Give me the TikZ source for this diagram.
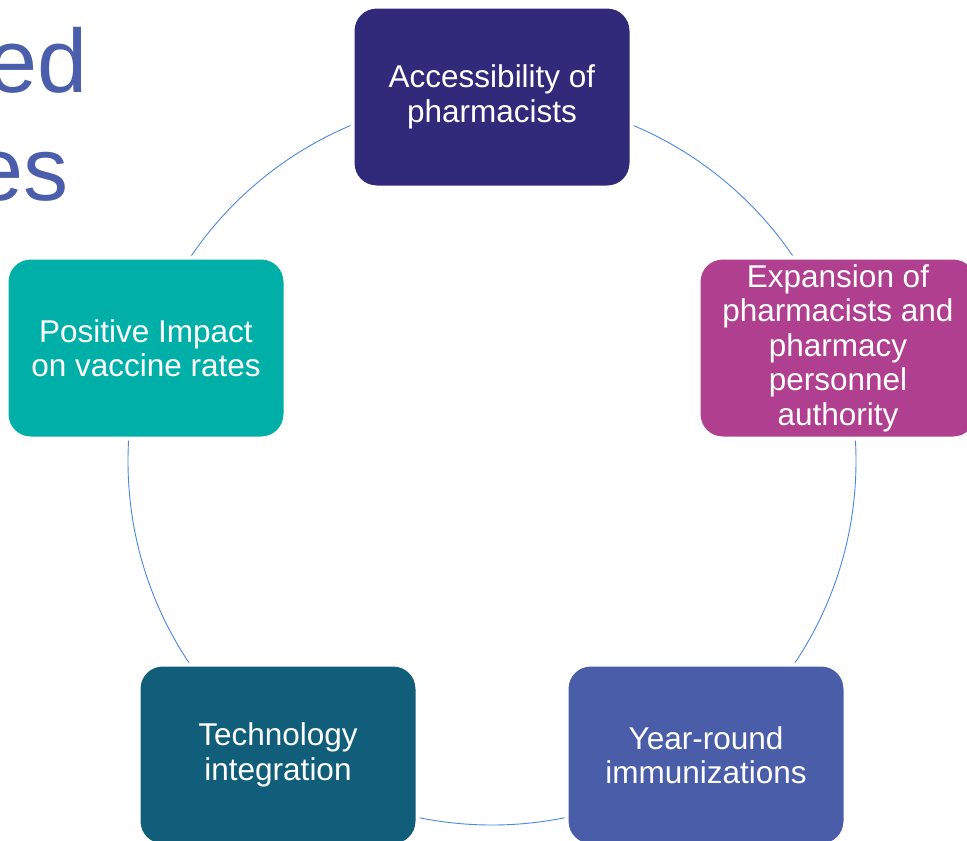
\documentclass[tikz,border=0pt]{standalone}
\usepackage{fontspec}
\setmainfont{Liberation Sans}
\usepackage{tikz}
\usetikzlibrary{calc, positioning}
\definecolor{ringblue}{HTML}{4A86E8}
\definecolor{titleblue}{HTML}{4A5EAC}
\definecolor{accessc}{HTML}{312A7B}
\definecolor{expandc}{HTML}{B0408F}
\definecolor{yearc}{HTML}{4A5DA9}
\definecolor{techc}{HTML}{115E7A}
\definecolor{impactc}{HTML}{00B0A8}

\begin{document}
\begin{tikzpicture}[x=1pt, y=-1pt]
	\tikzset{stage/.style={rounded corners=24pt, minimum width=279pt, minimum height=181pt, text=white, align=center, draw=white, line width=4pt, inner sep=0pt, font=\fontsize{31.5}{34.5}\selectfont}}
	\tikzset{ring/.style={draw=ringblue, line width=0.9pt}}
	\tikzset{title/.style={text=titleblue, inner sep=0, font=\fontsize{90}{108}\selectfont}}
		\useasboundingbox (0,0) rectangle (967,841);
		\coordinate (centre) at (492,461);
		\draw[ring] (centre) circle (364);
		\foreach \name/\x/\y/\col/\tag in {acc/492/97/accessc/{Accessibility of\\pharmacists}, exp/838/348/expandc/{Expansion of\\pharmacists and\\pharmacy\\personnel\\authority}, year/706/755/yearc/{Year-round\\immunizations}, tech/278/755/techc/{Technology\\integration}, imp/146/348/impactc/{Positive Impact\\on vaccine rates}}
		{\node[stage, fill=\col] (\name) at (\x,\y) {\tag};}
		% title, cut off by the page
		\node[title, anchor=base east] (ttl1) at (88,92) {ed};
		\node[title, anchor=base east] (ttl2) at (69,200) {es};
	\end{tikzpicture}
\end{document}
